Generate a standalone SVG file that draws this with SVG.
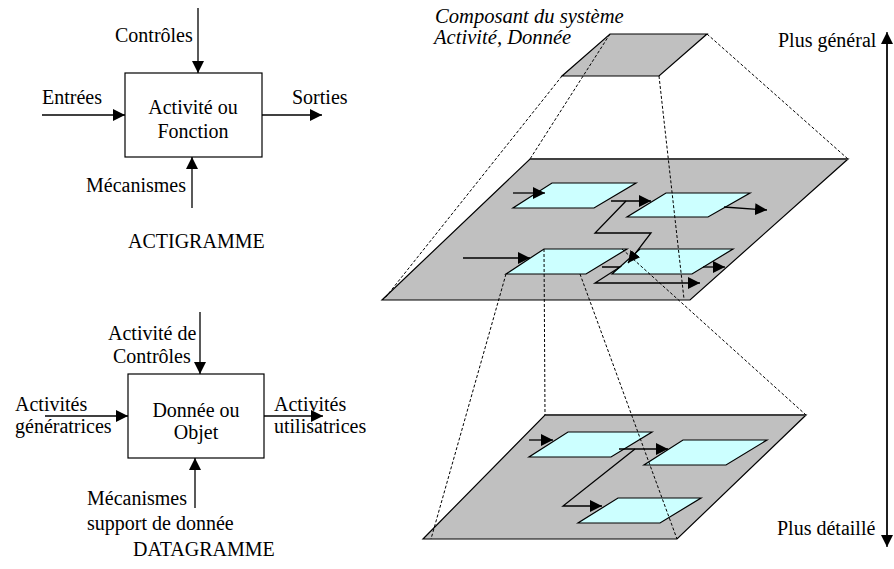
<svg xmlns="http://www.w3.org/2000/svg" width="894" height="569" viewBox="0 0 894 569">
<style>
text{font-family:"Liberation Serif","Times New Roman",serif;font-size:20px;fill:#000}
.it{font-style:italic;font-size:20.6px}
.mid{text-anchor:middle}
.box{fill:#fff;stroke:#000;stroke-width:1.2}
.ln{fill:none;stroke:#000;stroke-width:1.3}
.arr{fill:none;stroke:#000;stroke-width:1.3;marker-end:url(#ah)}
.plane{fill:#c0c0c0;stroke:#000;stroke-width:1.2;stroke-linejoin:miter}
.topedge{fill:none;stroke:#404040;stroke-width:2}
.cell{fill:#ccffff;stroke:#000;stroke-width:1.2}
.dash{fill:none;stroke:#000;stroke-width:1;stroke-dasharray:3,2}
</style>
<defs>
<marker id="ah" markerWidth="12" markerHeight="12" refX="12" refY="6" orient="auto" markerUnits="userSpaceOnUse">
<path d="M0,0 L12,6 L0,12 z" fill="#000"/>
</marker>
</defs>

<g id="actigramme">
<rect class="box" x="125" y="73" width="137" height="84"/>
<text class="mid" x="193" y="114">Activité ou</text>
<text class="mid" x="193" y="138">Fonction</text>
</g>
<g id="actigramme-labels">
<text x="115" y="42">Contrôles</text>
<text x="42" y="104">Entrées</text>
<text x="292" y="104">Sorties</text>
<text x="86" y="192">Mécanismes</text>
<text x="128" y="248">ACTIGRAMME</text>
</g>

<g id="datagramme">
<rect class="box" x="128" y="374" width="136" height="84"/>
<text class="mid" x="196" y="417">Donnée ou</text>
<text class="mid" x="196" y="439">Objet</text>
</g>
<g id="datagramme-labels">
<text x="108" y="340">Activité de</text>
<text x="113" y="363">Contrôles</text>
<text x="15" y="411">Activités</text>
<text x="15" y="433">génératrices</text>
<text x="274" y="411">Activités</text>
<text x="274" y="433">utilisatrices</text>
<text x="87" y="505">Mécanismes</text>
<text x="87" y="530">support de donnée</text>
<text x="133" y="556">DATAGRAMME</text>
</g>

<g id="plane-top">
<polygon class="plane" points="610,34 707,34 659,76 562,76"/>
<text class="it" x="435" y="23">Composant du système</text>
<text class="it" x="434" y="44">Activité, Donnée</text>
</g>

<g id="plane-middle">
<polygon class="plane" points="530,159 848,159 690,300 382,300"/>
<line class="topedge" x1="530" y1="159" x2="848" y2="159"/>
<polygon id="cell-m1" class="cell" points="552,183 636,183 594,208 513,208"/>
<polygon id="cell-m2" class="cell" points="666,193 750,193 708,217 627,217"/>
<polygon id="cell-m3" class="cell" points="544,249 627,249 586,274 506,274"/>
<polygon id="cell-m4" class="cell" points="640,249 733,249 692,274 612,274"/>
</g>

<g id="plane-bottom">
<polygon class="plane" points="545,415 806,415 677,539 423,539"/>
<line class="topedge" x1="545" y1="415" x2="806" y2="415"/>
<polygon id="cell-b1" class="cell" points="568,432 652,432 611,457 529,457"/>
<polygon id="cell-b2" class="cell" points="683,440 767,440 726,465 644,465"/>
<polygon id="cell-b3" class="cell" points="618,498 701,498 660,523 578,523"/>
</g>

<g id="scale">
<text x="778" y="47">Plus général</text>
<text x="777" y="535">Plus détaillé</text>
</g>

<g id="connectors">
<line class="arr" x1="198" y1="8" x2="198" y2="73"/>
<line class="arr" x1="42" y1="115" x2="125" y2="115"/>
<line class="arr" x1="262" y1="115" x2="322" y2="115"/>
<line class="arr" x1="192" y1="208" x2="192" y2="157"/>

<line class="arr" x1="200" y1="312" x2="200" y2="374"/>
<line class="arr" x1="45" y1="416" x2="128" y2="416"/>
<line class="arr" x1="264" y1="416" x2="323" y2="416"/>
<line class="arr" x1="195" y1="508" x2="195" y2="458"/>

<line class="arr" x1="513" y1="193" x2="545" y2="193"/>
<line class="arr" x1="611" y1="201" x2="651" y2="201"/>
<line class="arr" x1="724" y1="207" x2="767" y2="210"/>
<polyline class="arr" points="626,201 595,233 651,233 628,263"/>
<line class="arr" x1="463" y1="258" x2="530" y2="258"/>
<line class="arr" x1="703" y1="267" x2="725" y2="267"/>
<polyline class="arr" points="602,267 620,267 595,283 700,283"/>

<line class="arr" x1="529" y1="440" x2="553" y2="440"/>
<line class="arr" x1="619" y1="449" x2="668" y2="449"/>
<polyline class="arr" points="635,449 563,506 602,506"/>

<line class="dash" x1="562" y1="76" x2="385" y2="298"/>
<line class="dash" x1="610" y1="34" x2="530" y2="159"/>
<line class="dash" x1="659" y1="76" x2="684" y2="299"/>
<line class="dash" x1="707" y1="34" x2="848" y2="159"/>
<line class="dash" x1="506" y1="274" x2="431" y2="539"/>
<line class="dash" x1="544" y1="249" x2="545" y2="415"/>
<line class="dash" x1="580" y1="274" x2="677" y2="539"/>
<line class="dash" x1="622" y1="249" x2="806" y2="415"/>

<line class="arr" x1="887" y1="540" x2="887" y2="32"/>
<line class="arr" x1="887" y1="40" x2="887" y2="547"/>
</g>
</svg>
